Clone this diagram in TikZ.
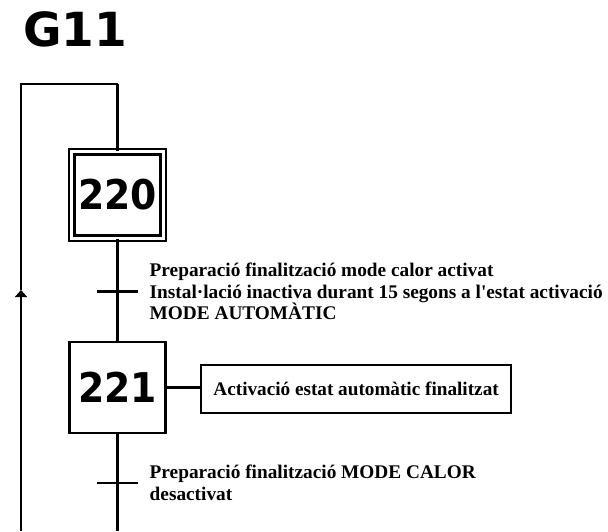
\documentclass[tikz,border=0pt]{standalone}
\usepackage{fontspec}
\usepackage{graphicx}
\usepackage{tikz}
\usetikzlibrary{arrows.meta,positioning}
\newfontfamily\stepfont{DejaVu Sans}
\newfontfamily\labelfont{Liberation Serif}
\newcommand{\stepnum}[1]{\scalebox{0.92}[1]{#1}}
\tikzset{
    every picture/.style={line cap=butt,line join=miter},
    stepbox/.style={draw=black,fill=white,line width=2.6pt,
      minimum width=96pt,minimum height=91pt,inner sep=0pt,
      font=\stepfont\bfseries\fontsize{41}{46}\selectfont},
    initstep/.style={stepbox,line width=2.2pt,double=white,double distance=3.2pt,
      minimum width=91.5pt,minimum height=86.5pt},
    trbar/.style={draw=none,fill=black,minimum width=41pt,minimum height=2.6pt,
      inner sep=0pt,outer sep=0pt},
    trtext/.style={anchor=west,inner sep=0pt,align=left,
      font=\labelfont\bfseries\fontsize{19.3}{21.6}\selectfont},
    actbox/.style={draw=black,line width=2.6pt,minimum width=310pt,minimum height=48pt,
      inner sep=0pt,font=\labelfont\bfseries\fontsize{19.2}{21.6}\selectfont},
    link/.style={draw=black,line width=2.6pt},
    backlink/.style={draw=black,line width=2.8pt}
}

\begin{document}
\begin{tikzpicture}[x=1pt,y=-1pt,>={Triangle[length=7pt,width=12pt]}]
  \useasboundingbox (0,0) rectangle (608,531);
  \node[anchor=base west,inner sep=0pt,font=\stepfont\bfseries\fontsize{47}{50}\selectfont]
    (title) at (23,46) {G11};
  % steps
  \node[initstep] (s220) at (117.5,195) {\stepnum{220}};
  \node[stepbox] (s221) at (117.5,387.5) {\stepnum{221}};
  % transitions
  \node[trbar] (t220) at (117.5,291.5) {};
  \node[trbar] (t221) at (117.5,483) {};
  \node[trtext,right=11.5pt of t220] (r220)
    {Preparació finalització mode calor activat\\
     Instal·lació inactiva durant 15 segons a l'estat activació\\
     MODE AUTOMÀTIC};
  \node[trtext,right=11.5pt of t221] (r221)
    {Preparació finalització MODE CALOR\\desactivat};
  % action
  \node[actbox,right=33pt of s221,yshift=-1.5pt] (a221) {Activació estat automàtic finalitzat};
  % links
  \coordinate (end221) at (117.5,531);
  \coordinate (retbot) at (21,531);
  \coordinate (retarr) at (21,290);
  \coordinate (rettop) at (21,84);
  \coordinate (retcor) at (117.5,84);
  \draw[link] (s220.south) -- (t220) -- (s221.north);
  \draw[link] (s221.south) -- (t221) -- (end221);
  \draw[link] (s221.east) -- (s221.east -| a221.west);
  \draw[backlink,->] (retbot) -- (retarr);
  \draw[backlink] (retarr) -- (rettop) -- (retcor);
  \draw[link] (retcor) -- (s220.north);
  % redraw bars on top of the links
  \node[trbar] at (t220) {};
  \node[trbar] at (t221) {};
\end{tikzpicture}
\end{document}
